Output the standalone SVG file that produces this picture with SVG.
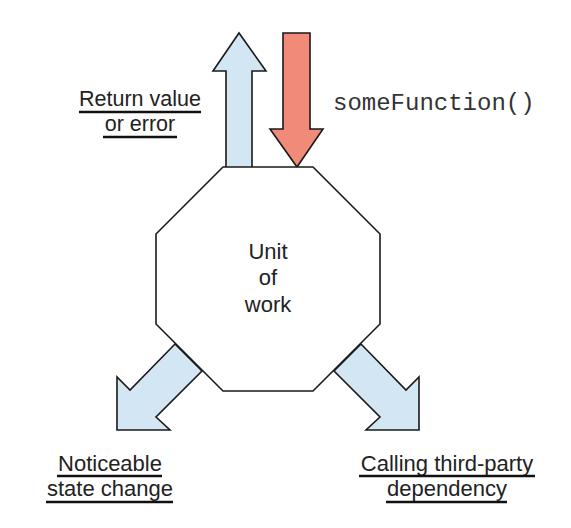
<svg xmlns="http://www.w3.org/2000/svg" width="571" height="528" viewBox="0 0 571 528">
<style>
.blue{fill:#d2e6f3;stroke:#1a1a1a;stroke-width:1.6;stroke-linejoin:miter}
.red{fill:#f28a7a;stroke:#1a1a1a;stroke-width:1.6}
.oct{fill:#ffffff;stroke:#1a1a1a;stroke-width:1.6}
.lbl{font-family:"Liberation Sans",Arial,sans-serif;font-size:22px;fill:#222;text-anchor:middle}
.mono{font-family:"Liberation Mono","Courier New",monospace;font-size:24px;fill:#333}
.ul{stroke:#111;stroke-width:2.6}
</style>
<rect width="571" height="528" fill="#ffffff"/>
<g id="connectors">
<polygon id="arrow-return" class="blue" points="226,168 226,71 213,71 239,33 266,71 252,71 252,168"/>
<polygon id="arrow-call" class="red" points="283,33 310,33 310,129 323,129 297,167 270,129 283,129"/>
<polygon id="arrow-state" class="blue" points="175,344 130,390 117,377 117,430 170,430 156,417 202,371"/>
<polygon id="arrow-dep" class="blue" points="361,344 406,390 419,377 419,430 366,430 380,417 334,371"/>
</g>
<g id="unit-of-work">
<polygon class="oct" points="223,167 313,167 380,234 380,324 313,391 223,391 156,324 156,234"/>
<text class="lbl" x="268" y="259">Unit</text>
<text class="lbl" x="268" y="285">of</text>
<text class="lbl" x="268" y="312">work</text>
</g>
<g id="label-return">
<text class="lbl" x="140" y="106" style="font-size:21.5px">Return value</text>
<text class="lbl" x="140" y="131" style="font-size:21.5px">or error</text>
<line class="ul" x1="79" y1="112" x2="201" y2="112"/>
<line class="ul" x1="103" y1="137" x2="177" y2="137"/>
</g>
<g id="label-call">
<text class="mono" x="333" y="110">someFunction()</text>
</g>
<g id="label-state">
<text class="lbl" x="110" y="471">Noticeable</text>
<text class="lbl" x="110" y="496">state change</text>
<line class="ul" x1="57" y1="476" x2="162" y2="476"/>
<line class="ul" x1="46" y1="502" x2="173" y2="502"/>
</g>
<g id="label-dep">
<text class="lbl" x="447" y="471">Calling third-party</text>
<text class="lbl" x="447" y="496">dependency</text>
<line class="ul" x1="359" y1="476" x2="535" y2="476"/>
<line class="ul" x1="386" y1="502" x2="507" y2="502"/>
</g>
</svg>
